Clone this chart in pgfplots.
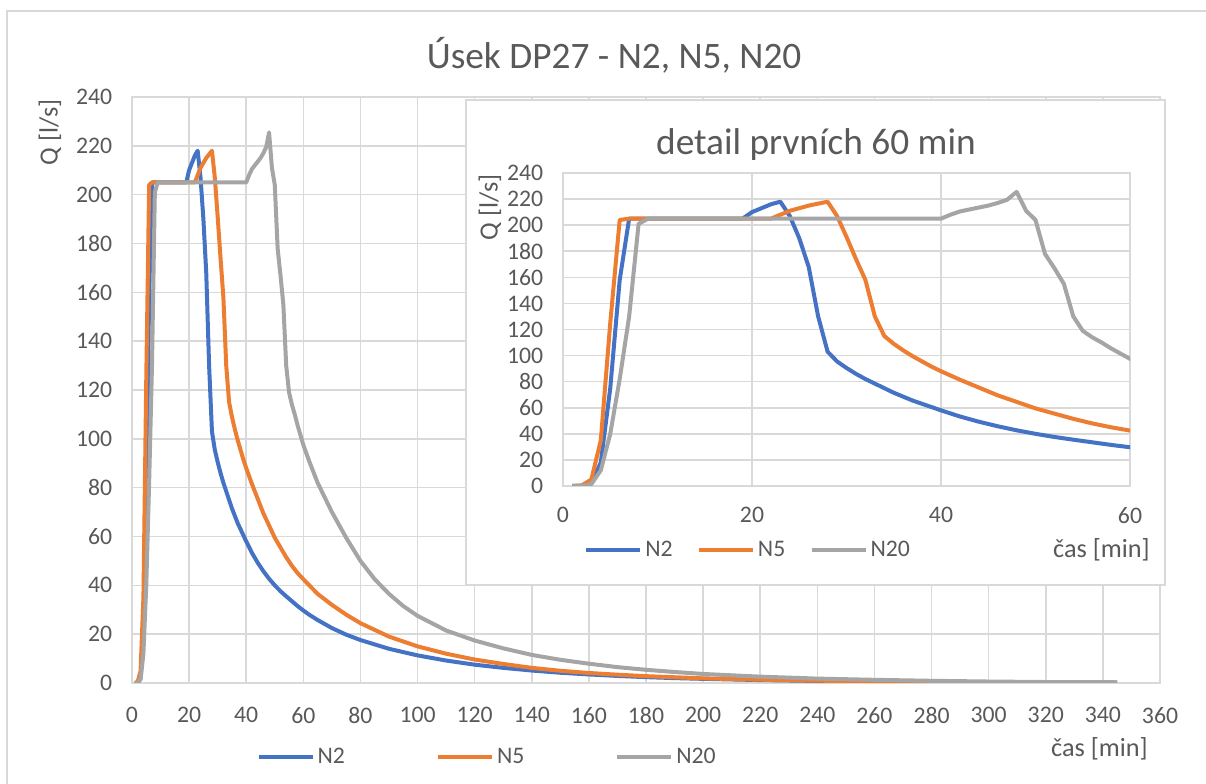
\documentclass[border=0pt]{standalone}
\usepackage{fontspec}
\setmainfont{Carlito}
\usepackage{pgfplots}
\pgfplotsset{compat=1.18}
\usepackage{pgfplotstable}
\definecolor{txt}{HTML}{595959}
\definecolor{gridc}{HTML}{D9D9D9}
\definecolor{cNa}{HTML}{4472C4}
\definecolor{cNb}{HTML}{ED7D31}
\definecolor{cNc}{HTML}{A5A5A5}

\pgfplotstableread{
t q
1 0
2 0
3 2
4 18
5 75
6 158
7 205
8 205
10 205
12 205
14 205
16 205
18 205
19 205
20 210
21 213
22 216
23 218
24 207
25 190
26 168
27 130
28 103
29 95.5
30 90.5
31 86
32 82
33 78.5
34 75
35 71.5
36 68.5
37 65.5
38 63
39 60.5
40 58
42 53.3
44 49.3
46 45.8
48 42.7
50 40
52 37.6
54 35.5
56 33.5
58 31.5
60 29.7
62 28
65 25.8
70 22.5
75 19.8
80 17.6
90 14
100 11.3
110 9.2
120 7.5
130 6.2
140 5.1
150 4.2
160 3.5
170 2.9
180 2.4
190 2.0
200 1.7
220 1.2
240 0.85
260 0.6
280 0.45
300 0.33
320 0.25
345 0.2
}\dataA

\pgfplotstableread{
t q
1 0
2 0.5
3 5
4 35
5 125
6 204
7 205
10 205
14 205
18 205
22 205
23 208
24 211
25 213
26 215
27 216.5
28 218
29 207
30 191
31 174
32 158
33 130
34 115
35 109
36 104
37 99.5
38 95.5
39 91.5
40 88
42 81.5
44 75.5
46 69.5
48 64.5
50 59.5
52 55.5
54 51.5
56 48
58 45
60 42.5
65 36.5
70 32
75 28
80 24.5
90 19
100 15
110 12
120 9.6
130 7.8
140 6.2
150 5.0
160 4.1
170 3.4
180 2.8
200 1.9
220 1.35
240 0.95
260 0.7
280 0.5
300 0.35
320 0.25
345 0.2
}\dataB

\pgfplotstableread{
t q
1 0
2 0
3 1.5
4 12
5 40
6 82
7 130
8 201
9 205
15 205
20 205
25 205
30 205
35 205
40 205
41 208
42 210.5
43 212
44 213.5
45 215
46 217
47 219.5
48 225.5
49 211
50 204
51 178
52 167
53 155
54 130
55 119
56 114
57 110
58 105.5
59 101.5
60 97.5
62 91
65 82
70 70
75 59.5
80 50
85 42.5
90 36.5
95 31.5
100 27.5
110 21.5
120 17.4
130 14.2
140 11.5
150 9.5
160 7.9
170 6.5
180 5.4
190 4.5
200 3.7
220 2.6
240 1.8
260 1.3
280 0.9
300 0.6
320 0.4
345 0.3
}\dataC

\pgfplotsset{
  excel/.style={
    scale only axis,
    grid=major,
    major grid style={draw=gridc, line width=1.2pt},
    axis line style={draw=gridc, line width=1.2pt},
    major tick length=0pt,
    tick style={draw=none},
    ticklabel style={font=\fontsize{17.8}{20}\selectfont, text=txt},
    /pgf/number format/assume math mode=true,
    yticklabel style={xshift=-11.3pt},
    ymin=0, ymax=240, ytick={0,20,...,240},
    legend cell align=left,
    legend image code/.code={\draw[##1] (0pt,0pt) -- (40.5pt,0pt);},
    every axis plot/.append style={line width=3pt, line join=round},
  }
}

\begin{document}
\begin{tikzpicture}
\useasboundingbox (0,0) rectangle (904.5pt,588pt);
\draw[gridc, line width=0.9pt] (5.25pt,0pt) -- (5.25pt,579.75pt) -- (904.5pt,579.75pt);

\begin{axis}[excel,
  at={(99pt,75.75pt)}, anchor=south west,
  width=771pt, height=439.5pt,
  xmin=0, xmax=360, xtick={0,20,...,360},
  xticklabel style={yshift=-14.75pt},
  legend style={at={(axis description cs:0.1210,-0.1263)}, anchor=west,
    draw=none, fill=none, inner sep=0pt,
    font=\fontsize{17.8}{20}\selectfont, text=txt,
    /tikz/every even column/.append style={column sep=66pt},
    nodes={inner xsep=2.25pt, inner ysep=0pt}},
  legend columns=3,
]
\addplot[cNa] table[x=t,y=q]{\dataA};
\addplot[cNb] table[x=t,y=q]{\dataB};
\addplot[cNc] table[x=t,y=q]{\dataC};
\legend{N2,N5,N20}
\end{axis}

\filldraw[fill=white, draw=gridc, line width=0.9pt] (349.5pt,149.25pt) rectangle (873.75pt,513pt);

\begin{axis}[excel,
  at={(422.25pt,223.5pt)}, anchor=south west,
  width=425.25pt, height=234.75pt,
  xmin=0, xmax=60, xtick={0,20,40,60},
  xticklabel style={yshift=-12.5pt},
  legend style={at={(axis description cs:0.0370,-0.2045)}, anchor=west,
    draw=none, fill=none, inner sep=0pt,
    font=\fontsize{17.8}{20}\selectfont, text=txt,
    /tikz/every even column/.append style={column sep=16pt},
    nodes={inner xsep=2.25pt, inner ysep=0pt}},
  legend columns=3,
]
\addplot[cNa] table[x=t,y=q]{\dataA};
\addplot[cNb] table[x=t,y=q]{\dataB};
\addplot[cNc] table[x=t,y=q]{\dataC};
\legend{N2,N5,N20}
\end{axis}

% titles and axis labels
\node[anchor=base, text=txt, font=\fontsize{28}{34}\selectfont, inner sep=0pt] at (460.5pt,536.25pt) {Úsek DP27 - N2, N5, N20};
\node[rotate=90, text=txt, font=\fontsize{19.7}{24}\selectfont, inner sep=0pt] at (37.5pt,488.6pt) {Q [l/s]};
\node[anchor=base east, text=txt, font=\fontsize{19.7}{24}\selectfont, inner sep=0pt] at (861pt,20.5pt) {čas [min]};

\node[anchor=base, text=txt, font=\fontsize{28}{34}\selectfont, inner sep=0pt] at (612pt,471.75pt) {detail prvních 60 min};
\node[rotate=90, text=txt, font=\fontsize{19.7}{24}\selectfont, inner sep=0pt] at (367.5pt,432.4pt) {Q [l/s]};
\node[anchor=base east, text=txt, font=\fontsize{19.7}{24}\selectfont, inner sep=0pt] at (862.5pt,169.5pt) {čas [min]};
\end{tikzpicture}
\end{document}
